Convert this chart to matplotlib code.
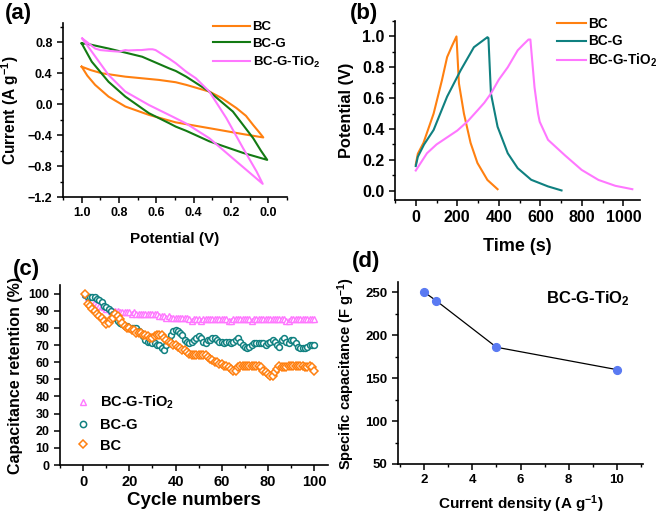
import matplotlib
matplotlib.use("Agg")
import matplotlib.pyplot as plt
from matplotlib.ticker import MultipleLocator
from matplotlib.lines import Line2D

plt.rcParams['font.family'] = ['Liberation Sans', 'DejaVu Sans']
plt.rcParams['font.weight'] = 'bold'
plt.rcParams['axes.labelweight'] = 'bold'
plt.rcParams['mathtext.fontset'] = 'custom'
plt.rcParams['mathtext.rm'] = 'Liberation Sans:bold'
plt.rcParams['mathtext.bf'] = 'Liberation Sans:bold'
plt.rcParams['mathtext.it'] = 'Liberation Sans:bold'

ORANGE = '#ff8010'
GREEN = '#137a13'
PINK = '#ff77ff'
TEAL = '#0f8080'
BLUE = '#5a7af2'

# (a) CV loops: upper branch from 1.0 V down, then lower branch back
cv_bc_v = [1.0, 0.95, 0.892, 0.766, 0.586, 0.496, 0.44, 0.316, 0.25, 0.171, 0.12, 0.081, 0.05, 0.027,
           0.135, 0.316, 0.44, 0.496, 0.64, 0.766, 0.856, 0.928, 0.97, 1.0]
cv_bc_i = [0.485, 0.44, 0.40, 0.356, 0.314, 0.284, 0.25, 0.163, 0.08, -0.05, -0.15, -0.27, -0.36, -0.43,
           -0.387, -0.31, -0.258, -0.235, -0.138, -0.03, 0.098, 0.25, 0.37, 0.485]
cv_bcg_v = [1.0, 0.97, 0.856, 0.676, 0.532, 0.496, 0.44, 0.316, 0.19, 0.081, 0.04, 0.006,
            0.135, 0.316, 0.44, 0.496, 0.532, 0.64, 0.766, 0.856, 0.946, 1.0]
cv_bcg_i = [0.787, 0.78, 0.72, 0.614, 0.464, 0.43, 0.356, 0.163, -0.095, -0.44, -0.60, -0.72,
            -0.63, -0.48, -0.344, -0.29, -0.245, -0.116, 0.098, 0.29, 0.55, 0.787]
cv_tio2_v = [0.997, 0.97, 0.928, 0.90, 0.856, 0.83, 0.80, 0.766, 0.75, 0.70, 0.68, 0.64, 0.62, 0.604,
             0.532, 0.496, 0.44, 0.388, 0.316, 0.225, 0.135, 0.063, 0.03,
             0.171, 0.316, 0.44, 0.514, 0.64, 0.766, 0.856, 0.946, 0.997]
cv_tio2_i = [0.85, 0.80, 0.72, 0.70, 0.69, 0.685, 0.68, 0.70, 0.695, 0.70, 0.70, 0.71, 0.71, 0.70,
             0.59, 0.53, 0.42, 0.335, 0.163, -0.18, -0.57, -0.87, -1.03,
             -0.74, -0.44, -0.25, -0.16, -0.01, 0.163, 0.378, 0.68, 0.85]

# (b) charge / discharge
gcd_bc_t = [0, 10, 37, 53, 86, 126, 151, 175, 196, 208, 232, 264, 297, 345, 394]
gcd_bc_v = [0.17, 0.24, 0.31, 0.372, 0.50, 0.716, 0.866, 0.94, 1.0, 0.695, 0.50, 0.31, 0.18, 0.07, 0.01]
gcd_bcg_t = [0, 10, 40, 86, 151, 216, 280, 345, 350, 362, 394, 443, 491, 556, 637, 702]
gcd_bcg_v = [0.16, 0.22, 0.30, 0.394, 0.61, 0.78, 0.93, 0.995, 0.99, 0.63, 0.415, 0.243, 0.146, 0.071, 0.028, 0.002]
gcd_tio2_t = [0, 54, 100, 150, 200, 250, 297, 330, 362, 400, 443, 491, 520, 543, 552, 572, 589, 597, 637, 718,
              799, 880, 961, 1043]
gcd_tio2_v = [0.131, 0.243, 0.30, 0.345, 0.39, 0.45, 0.52, 0.57, 0.63, 0.72, 0.80, 0.91, 0.95, 0.98, 0.98, 0.67,
              0.50, 0.447, 0.33, 0.23, 0.135, 0.07, 0.032, 0.01]

# (c) cycling, cycles 1..100
cycles = list(range(1, 101))
ret_tio2 = [100, 98, 97, 96, 95, 94, 93, 93, 92, 91, 91, 90, 90, 90, 90, 89, 89, 89, 89, 89,
            88, 89, 88, 88, 88, 88, 88, 88, 88, 88, 88, 88, 87, 87, 87, 86, 87, 86, 86, 86,
            86, 86, 86, 86, 86, 85, 84, 85, 85, 85, 84, 85, 85, 85, 85, 85, 85, 85, 85, 85,
            85, 85, 84, 84, 85, 85, 85, 85, 85, 85, 85, 85, 84, 85, 85, 85, 85, 85, 85, 85,
            85, 85, 85, 85, 85, 85, 85, 84, 84, 85, 85, 85, 85, 85, 85, 85, 85, 85, 85, 85]
ret_bcg = [99, 98, 98, 98, 98, 97, 96, 95, 93, 92, 91, 90, 88, 86, 84, 83, 82, 81, 81, 80,
           80, 80, 80, 78, 77, 75, 73, 72, 72, 71, 71, 70, 70, 68, 67, 70, 73, 76, 78, 79,
           78, 77, 76, 73, 72, 71, 72, 73, 74, 75, 74, 72, 71, 73, 73, 74, 74, 73, 72, 72,
           71, 72, 72, 71, 72, 73, 74, 72, 70, 69, 68, 69, 70, 71, 71, 71, 71, 71, 70, 71,
           72, 73, 72, 70, 69, 73, 74, 72, 71, 73, 73, 71, 69, 68, 68, 68, 69, 70, 70, 70]
ret_bc = [100, 94, 93, 91, 90, 88, 87, 86, 84, 82, 83, 85, 86, 88, 87, 85, 83, 81, 80, 80,
          79, 79, 77, 77, 77, 76, 76, 75, 74, 74, 75, 76, 76, 76, 74, 73, 72, 71, 70, 70,
          69, 68, 67, 67, 66, 65, 64, 64, 64, 64, 64, 64, 64, 63, 62, 61, 60, 60, 59, 59,
          58, 58, 57, 56, 55, 55, 57, 58, 58, 58, 58, 58, 58, 58, 58, 58, 57, 55, 54, 53,
          52, 52, 54, 56, 58, 57, 57, 57, 58, 58, 58, 58, 58, 58, 58, 57, 57, 58, 57, 55]

# (d) rate capability
current_density = [2, 2.5, 5, 10]
spec_cap = [250, 240, 186, 160]


def style_axes(ax, labelsize):
    for side in ['top', 'right']:
        ax.spines[side].set_visible(False)
    for side in ['left', 'bottom']:
        ax.spines[side].set_linewidth(1.2)
    ax.tick_params(which='major', direction='out', length=4, width=1.1, labelsize=labelsize)
    ax.tick_params(which='minor', direction='out', length=2.5, width=1.0)


fig = plt.figure(figsize=(6.6, 5.14), dpi=100)

# ---- (a)
ax = fig.add_axes([63 / 660, 1 - 197 / 514, 224 / 660, 174 / 514])
ax.plot(cv_bc_v, cv_bc_i, color=ORANGE, lw=1.5, label='BC')
ax.plot(cv_bcg_v, cv_bcg_i, color=GREEN, lw=1.5, label='BC-G')
ax.plot(cv_tio2_v, cv_tio2_i, color=PINK, lw=1.5, label=r'BC-G-TiO$_2$')
ax.set_xlim(1.1, -0.1)
ax.set_ylim(-1.2, 1.05)
ax.xaxis.set_major_locator(MultipleLocator(0.2))
ax.xaxis.set_minor_locator(MultipleLocator(0.1))
ax.yaxis.set_major_locator(MultipleLocator(0.4))
ax.yaxis.set_minor_locator(MultipleLocator(0.2))
style_axes(ax, 9)
ax.set_xlabel('Potential (V)', fontsize=11, labelpad=9)
ax.set_ylabel(r'Current (A g$^{-1}$)', fontsize=11.2, labelpad=5)
ax.legend(loc='upper left', bbox_to_anchor=(213 / 660, 1 - 21 / 514), bbox_transform=fig.transFigure,
          frameon=False, fontsize=9.5, handlelength=2.8, handletextpad=0.2, labelspacing=0.35,
          borderpad=0, borderaxespad=0)
fig.text(5 / 660, 1 - 13 / 514, '(a)', fontsize=16, fontweight='bold', va='center')

# ---- (b)
ax = fig.add_axes([395 / 660, 1 - 200 / 514, 245 / 660, 179 / 514])
ax.plot(gcd_bc_t, gcd_bc_v, color=ORANGE, lw=1.5, label='BC')
ax.plot(gcd_bcg_t, gcd_bcg_v, color=TEAL, lw=1.5, label='BC-G')
ax.plot(gcd_tio2_t, gcd_tio2_v, color=PINK, lw=1.5, label=r'BC-G-TiO$_2$')
ax.set_xlim(-100, 1080)
ax.set_ylim(-0.06, 1.1)
ax.xaxis.set_major_locator(MultipleLocator(200))
ax.xaxis.set_minor_locator(MultipleLocator(100))
ax.yaxis.set_major_locator(MultipleLocator(0.2))
ax.yaxis.set_minor_locator(MultipleLocator(0.1))
style_axes(ax, 11.5)
ax.set_xlabel('Time (s)', fontsize=13, labelpad=9)
ax.set_ylabel('Potential (V)', fontsize=11.8, labelpad=6)
ax.legend(loc='upper left', bbox_to_anchor=(557 / 660, 1 - 17 / 514), bbox_transform=fig.transFigure,
          frameon=False, fontsize=9.8, handlelength=2.1, handletextpad=0.2, labelspacing=0.25,
          borderpad=0, borderaxespad=0)
fig.text(350 / 660, 1 - 13 / 514, '(b)', fontsize=16, fontweight='bold', va='center')

# ---- (c)
ax = fig.add_axes([60 / 660, 1 - 465 / 514, 268 / 660, 180 / 514])
ax.plot(cycles, ret_tio2, ls='none', marker='^', ms=4.5, mfc='white', mec=PINK, mew=1.0)
ax.plot(cycles, ret_bcg, ls='none', marker='o', ms=4.2, mfc='white', mec=TEAL, mew=1.1)
ax.plot(cycles, ret_bc, ls='none', marker='D', ms=4.0, mfc='white', mec=ORANGE, mew=1.1)
ax.set_xlim(-10, 106)
ax.set_ylim(0, 105)
ax.xaxis.set_major_locator(MultipleLocator(20))
ax.xaxis.set_minor_locator(MultipleLocator(10))
ax.yaxis.set_major_locator(MultipleLocator(10))
style_axes(ax, 9)
ax.tick_params(axis='x', labelsize=10.5)
ax.set_xlabel('Cycle numbers', fontsize=13.5, labelpad=2)
ax.set_ylabel('Capacitance retention (%)', fontsize=11.5, labelpad=4)
handles = [Line2D([], [], ls='none', marker='^', ms=5, mfc='white', mec=PINK, mew=1.0),
           Line2D([], [], ls='none', marker='o', ms=4.5, mfc='white', mec=TEAL, mew=1.1),
           Line2D([], [], ls='none', marker='D', ms=4.5, mfc='white', mec=ORANGE, mew=1.1)]
ax.legend(handles, [r'BC-G-TiO$_2$', 'BC-G', 'BC'], loc='upper left',
          bbox_to_anchor=(76 / 660, 1 - 394 / 514), bbox_transform=fig.transFigure,
          frameon=False, fontsize=10.5, handlelength=1.0, handletextpad=0.65, labelspacing=0.45,
          borderpad=0, borderaxespad=0, numpoints=1)
fig.text(13 / 660, 1 - 270 / 514, '(c)', fontsize=16, fontweight='bold', va='center')

# ---- (d)
ax = fig.add_axes([398 / 660, 1 - 464 / 514, 245 / 660, 182 / 514])
ax.plot(current_density, spec_cap, color='black', lw=0.9, marker='o', ms=5.6, mfc=BLUE, mec=BLUE)
ax.set_xlim(0.9, 11.1)
ax.set_ylim(50, 262)
ax.xaxis.set_major_locator(MultipleLocator(2))
ax.xaxis.set_minor_locator(MultipleLocator(1))
ax.yaxis.set_major_locator(MultipleLocator(50))
ax.yaxis.set_minor_locator(MultipleLocator(25))
style_axes(ax, 9.5)
ax.set_xlabel(r'Current density (A g$^{-1}$)', fontsize=11, labelpad=5)
ax.set_ylabel(r'Specific capacitance (F g$^{-1}$)', fontsize=10.5, labelpad=6)
ax.text(0.947, 0.907, r'BC-G-TiO$_2$', transform=ax.transAxes, fontsize=12, fontweight='bold',
        ha='right', va='center')
fig.text(352 / 660, 1 - 262 / 514, '(d)', fontsize=16, fontweight='bold', va='center')

fig.savefig('out.png', dpi=100)
